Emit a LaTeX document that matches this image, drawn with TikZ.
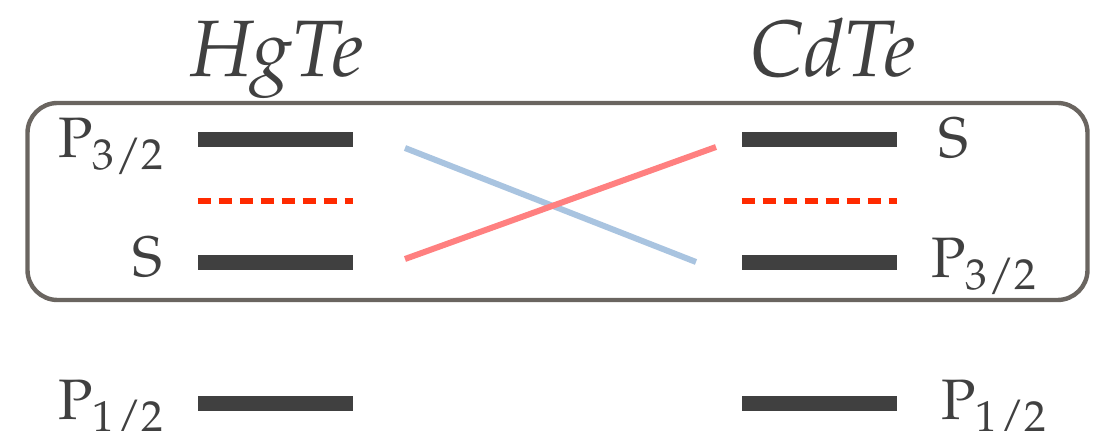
\documentclass[tikz,border=0pt]{standalone}
\usepackage[T1]{fontenc}
\usepackage{mathpazo}
\usepackage{tikz}
\usetikzlibrary{calc}
\definecolor{bandgray}{HTML}{404040}
\definecolor{boxgray}{HTML}{6A6560}
\definecolor{fermired}{HTML}{FF2A00}
\definecolor{invblue}{HTML}{A9C4E0}
\definecolor{invred}{HTML}{FF8080}

\begin{document}
\begin{tikzpicture}[x=0.5pt, y=-0.5pt,
    level/.style={rectangle, fill=bandgray, minimum width=77.5pt, minimum height=7.5pt, inner sep=0pt},
    lbl/.style={text=bandgray, inner sep=0pt, font=\fontsize{28.5}{28.5}\selectfont},
    title/.style={text=bandgray, inner sep=0pt, font=\fontsize{40}{40}\selectfont\itshape},
    fermi/.style={fermired, line width=3pt, dash pattern=on 6.5pt off 4pt},
    cross/.style={line width=3pt},
  ]
  \useasboundingbox (0,0) rectangle (1093,431);
  % frame round the inverted levels
  \node[draw=boxgray, line width=2.2pt, rounded corners=15pt, minimum width=530pt, minimum height=98.5pt, inner sep=0pt] (frame) at (557.5,201.5) {};
  % HgTe levels
  \node[level] (hP3) at (275.5,140) {};
  \node[level] (hS) at (275.5,263) {};
  \node[level] (hP1) at (275.5,404) {};
  % CdTe levels
  \node[level] (cS) at (819.5,140) {};
  \node[level] (cP3) at (819.5,263) {};
  \node[level] (cP1) at (819.5,404) {};
  \draw[fermi] ($(hP3.west)!.5!(hS.west)$) -- ($(hP3.east)!.5!(hS.east)$);
  \draw[fermi] ($(cS.west)!.5!(cP3.west)$) -- ($(cS.east)!.5!(cP3.east)$);
  % band inversion
  \coordinate (bl) at (405,148);
  \coordinate (br) at (696,262);
  \coordinate (rl) at (405,259);
  \coordinate (rr) at (716,147);
  \draw[cross, invblue] (bl) -- (br);
  \draw[cross, invred] (rl) -- (rr);
  % labels
  \node[title, anchor=base] (hg) at (277,77) {HgTe};
  \node[title, anchor=base] (cd) at (833,77) {CdTe};
  \node[lbl, anchor=base east] (lhP3) at (165,158) {P$_{3/2}$};
  \node[lbl, anchor=base east] (lhS) at (163,277) {S};
  \node[lbl, anchor=base east] (lhP1) at (165,420) {P$_{1/2}$};
  \node[lbl, anchor=base west] (lcS) at (938,158) {S};
  \node[lbl, anchor=base west] (lcP3) at (931,278) {P$_{3/2}$};
  \node[lbl, anchor=base west] (lcP1) at (941,420) {P$_{1/2}$};
\end{tikzpicture}
\end{document}
